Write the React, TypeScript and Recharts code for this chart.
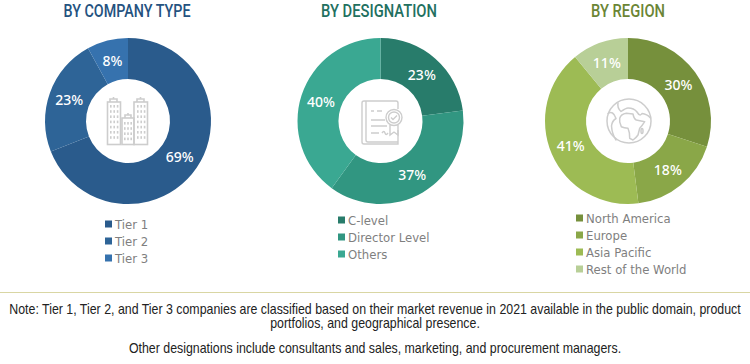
import React from "react";
import { PieChart, Pie, Cell } from "recharts";

const companyNames = ["Tier 1", "Tier 2", "Tier 3"];
const companyValues = [69, 23, 8];
const companyColors = ["#2a5b8c", "#2e6497", "#3672ae"];

const designationNames = ["C-level", "Director Level", "Others"];
const designationValues = [23, 37, 40];
const designationColors = ["#287c6b", "#319681", "#3aa892"];

const regionNames = ["North America", "Europe", "Asia Pacific", "Rest of the World"];
const regionValues = [30, 18, 41, 11];
const regionColors = ["#76903c", "#8aa748", "#9dbb54", "#b8cf97"];

const noteLines = [
  "Note: Tier 1, Tier 2, and Tier 3 companies are classified based on their market revenue in 2021 available in the public domain, product",
  "portfolios, and geographical presence.",
  "Other designations include consultants and sales, marketing, and procurement managers.",
];

const toRows = (names: string[], values: number[]) => names.map((name, i) => ({ name, value: values[i] }));

const RAD = Math.PI / 180;
const pctLabel = (p: any) => {
  const r = (p.innerRadius + p.outerRadius) / 2;
  const x = p.cx + r * Math.cos(-p.midAngle * RAD);
  const y = p.cy + r * Math.sin(-p.midAngle * RAD);
  return (
    <text key={p.index} x={x} y={y} dy={5.5} textAnchor="middle" fill="#ffffff"
      style={{ fontFamily: "'Noto Sans', sans-serif", fontSize: 14, fontWeight: 500 }}>
      {p.value}%
    </text>
  );
};

const donuts = [
  { rows: toRows(companyNames, companyValues), colors: companyColors, cx: 128, titleX: 127, title: "BY COMPANY TYPE", titleWidth: 127, titleColor: "#24527f", legendX: 105, legendY: 224 },
  { rows: toRows(designationNames, designationValues), colors: designationColors, cx: 380.5, titleX: 379, title: "BY DESIGNATION", titleWidth: 116, titleColor: "#22705f", legendX: 338, legendY: 220 },
  { rows: toRows(regionNames, regionValues), colors: regionColors, cx: 628, titleX: 628, title: "BY REGION", titleWidth: 74, titleColor: "#6b8535", legendX: 576, legendY: 218 },
];

const noteBaselines = [314, 328, 352.5];

const G = "#cdcdcd";

const BuildingIcon = () => (
  <g fill="none" stroke={G} strokeWidth={1.6}>
    <rect x={107.5} y={102} width={13} height={42.5} />
    <rect x={122} y={118} width={12} height={26.5} />
    <rect x={134} y={102} width={13.5} height={42.5} />
    <path d="M110 102v-3h7v3M137 102v-3h7v3M125 118v-3h6v3M113.5 99v-2M140.5 99v-2M128 115v-2" />
    {[0, 1, 2, 3, 4, 5, 6].map((r) =>
      [0, 1, 2].map((c) => (
        <g key={`${r}-${c}`}>
          <rect x={110 + c * 3.4} y={105 + r * 5.2} width={1.6} height={2.6} fill={G} stroke="none" />
          <rect x={137 + c * 3.4} y={105 + r * 5.2} width={1.6} height={2.6} fill={G} stroke="none" />
        </g>
      ))
    )}
    {[0, 1, 2, 3].map((r) =>
      [0, 1, 2].map((c) => (
        <rect key={`m${r}-${c}`} x={124 + c * 3.2} y={122 + r * 5.2} width={1.6} height={2.6} fill={G} stroke="none" />
      ))
    )}
  </g>
);

const CertificateIcon = () => (
  <g fill="none" stroke={G} strokeWidth={1.4}>
    <path d="M398 130v14h-34a2 2 0 0 1-2-2V103a2 2 0 0 1 2-2h32a2 2 0 0 1 2 2v6" />
    <path d="M366 101v39a2 2 0 0 0 2 2h30" />
    <path d="M371 111h3M377 111h5M371 120h14M371 126h16M371 133h8M382 133q2-3 3 0t3 0" />
    <circle cx={394} cy={117.5} r={8} />
    <circle cx={394} cy={117.5} r={5.5} />
    <path d="M391 117.5l2 2 4-4M390 125v10l4-3 4 3v-10" />
  </g>
);

const GlobeIcon = () => (
  <g fill="none" stroke={G} strokeWidth={1.5} strokeLinejoin="round" strokeLinecap="round">
    <circle cx={629} cy={121} r={22} />
    <path d="M619.7 118.3Q621 114 626.3 113.3L633 114Q634 119 636.3 120L644.7 121.7Q642 126 639.7 128.3L638 135Q636 138 633 140L629.7 138.3Q630 133 628 128.3Q624 128 621.3 126.7Q619 122 619.7 118.3Z" />
    <path d="M618 103Q617 108 621 111.5Q626 108 628 108Q634 108 637 112Q640 117 642 113.5Q647 114 650.5 118" />
    <path d="M608 113.5Q613 110 616 118.5Q612 121 611.5 126Q612 134 616 140" />
    <ellipse cx={642} cy={131} rx={1} ry={2.5} />
  </g>
);

export default function App() {
  return (
    <div style={{ position: "absolute", left: 0, top: 0, width: 750, height: 364, background: "#fff", overflow: "hidden" }}>
      <div style={{ position: "absolute", left: 0, top: 0 }}>
        <PieChart width={750} height={364} margin={{ top: 0, right: 0, bottom: 0, left: 0 }}>
          {donuts.map((d, k) => (
            <Pie key={k} data={d.rows} dataKey="value" nameKey="name" cx={d.cx} cy={121} innerRadius={42} outerRadius={83}
              startAngle={90} endAngle={-270} stroke="none" label={pctLabel} labelLine={false} isAnimationActive={false}>
              {d.rows.map((_, i) => <Cell key={i} fill={d.colors[i]} />)}
            </Pie>
          ))}
        </PieChart>
      </div>
      <svg width={750} height={364} style={{ position: "absolute", left: 0, top: 0, pointerEvents: "none" }}>
        <BuildingIcon />
        <CertificateIcon />
        <GlobeIcon />
        {donuts.map((d, k) => (
          <g key={k}>
            <text x={d.titleX - d.titleWidth / 2} y={17} textLength={d.titleWidth} lengthAdjust="spacingAndGlyphs" fill={d.titleColor}
              style={{ fontFamily: "Roboto, sans-serif", fontSize: 18, fontWeight: 500 }}>
              {d.title}
            </text>
            {d.rows.map((r, i) => (
              <g key={i}>
                <rect x={d.legendX} y={d.legendY - 3.5 + i * 17} width={7} height={7} fill={d.colors[i]} />
                <text x={d.legendX + 10} y={d.legendY + 5 + i * 17} fill="#7f7f7f"
                  style={{ fontFamily: "'DejaVu Sans', sans-serif", fontSize: 11.7 }}>
                  {r.name}
                </text>
              </g>
            ))}
          </g>
        ))}
        <line x1={0} x2={750} y1={292.5} y2={292.5} stroke="#d9d6a3" strokeWidth={1} />
        {noteLines.map((t, i) => (
          <text key={i} transform={`translate(375 ${noteBaselines[i]}) scale(0.884 1)`} textAnchor="middle" fill="#222222"
            style={{ fontFamily: "'Liberation Sans', sans-serif", fontSize: 14 }}>
            {t}
          </text>
        ))}
      </svg>
    </div>
  );
}
